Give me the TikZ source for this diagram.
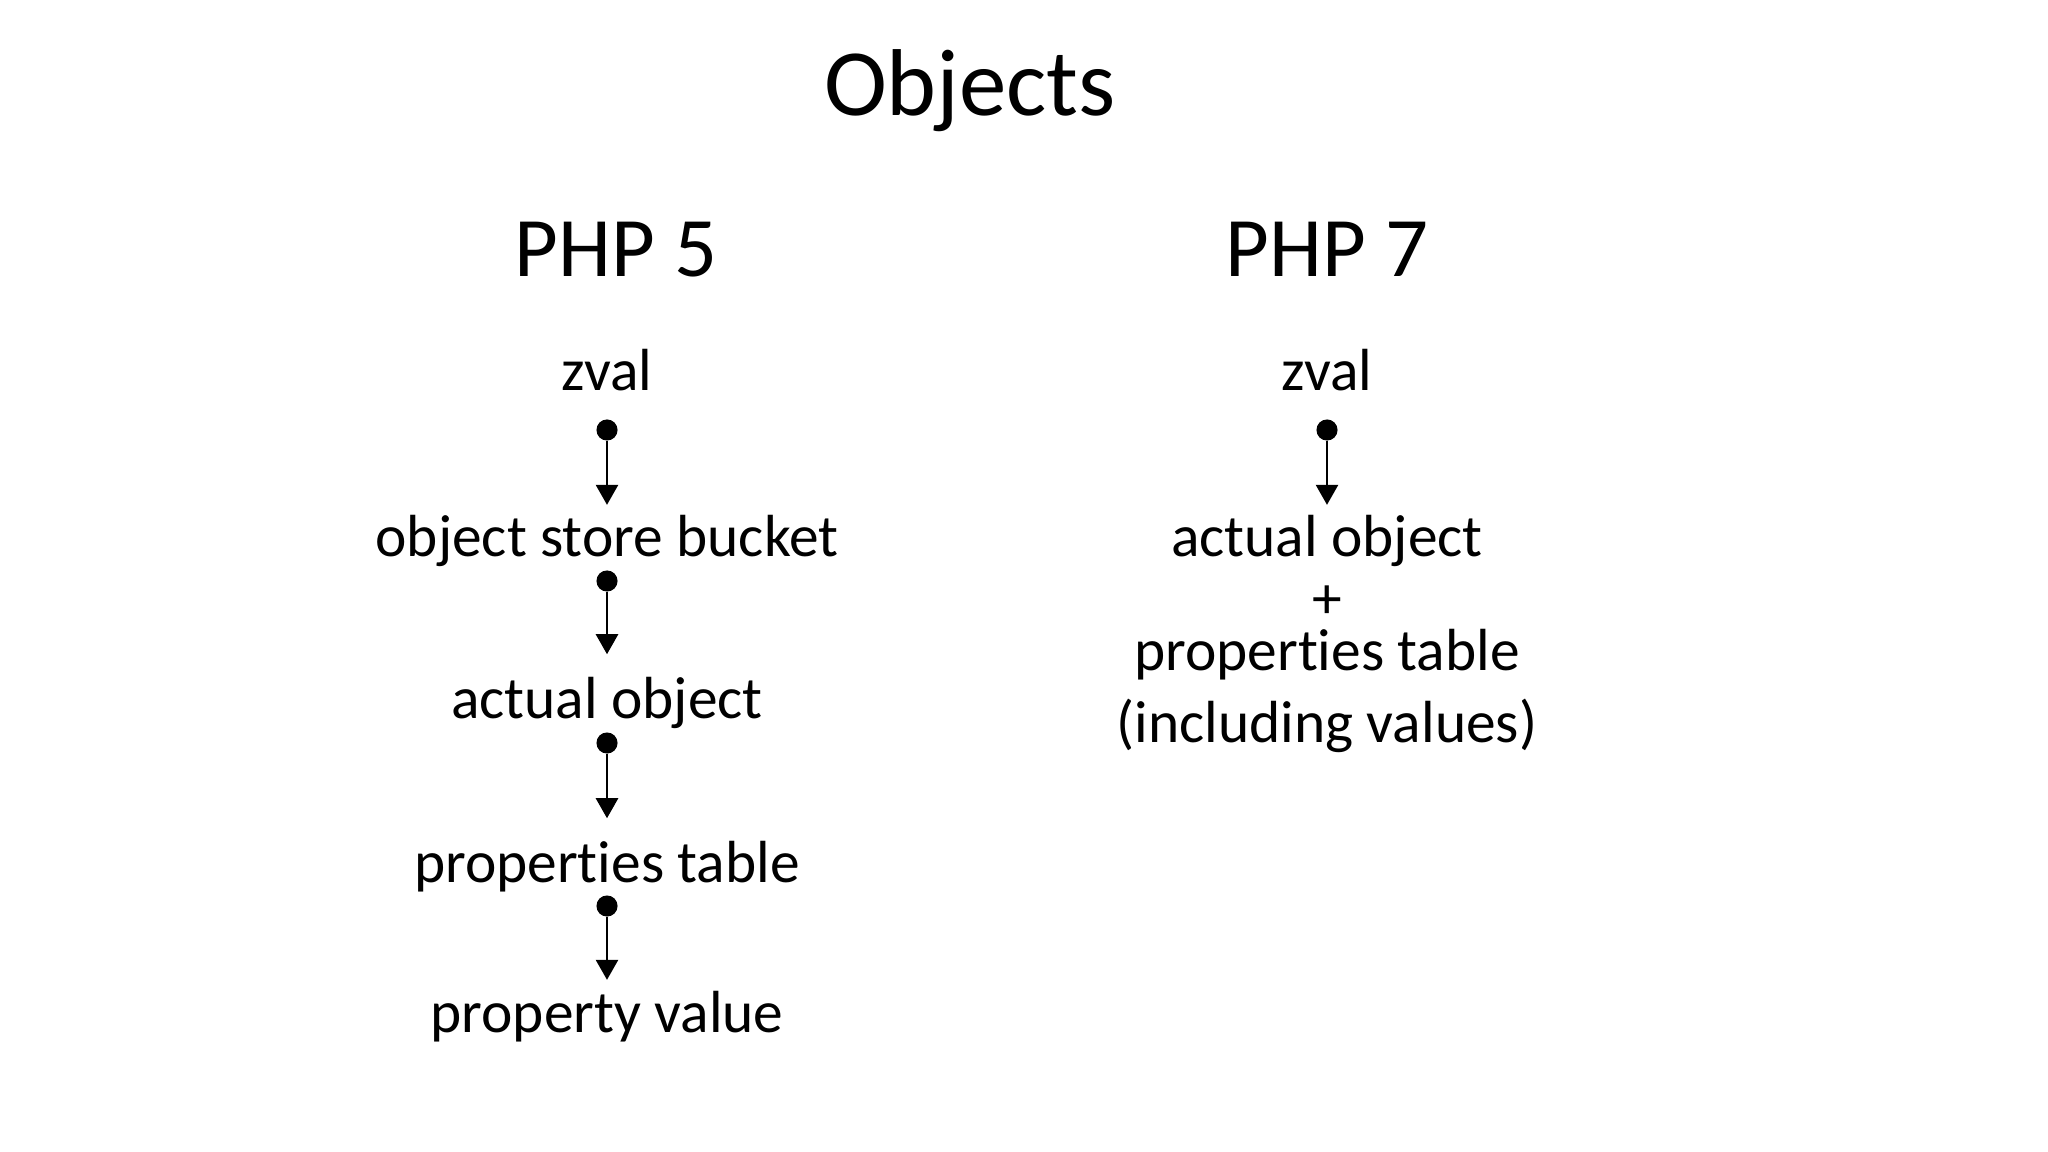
\documentclass[tikz,border=0pt]{standalone}
\usepackage{fontspec}
\setmainfont[Ligatures=NoCommon]{Carlito}
\usetikzlibrary{arrows.meta}

\tikzset{
  heading/.style={font=\fontsize{27}{32}\selectfont,anchor=base,inner sep=0pt},
  version/.style={font=\fontsize{24.1}{29}\selectfont,anchor=base,inner sep=0pt},
  item/.style={font=\fontsize{16.9}{20}\selectfont,anchor=base,inner sep=0pt},
  near/.style={outer ysep=3.1pt},
  far/.style={outer ysep=6.4pt},
  dot/.style={circle,fill,inner sep=0pt,minimum size=6pt},
  ptr/.style={-{Triangle[width=6.3pt,length=5.7pt]},line width=0.65pt}
}

\begin{document}
\begin{tikzpicture}[x=0.01cm,y=-0.01cm]
\useasboundingbox (0,0) rectangle (2048,1152);
\node [heading] (title) at (970,116) {Objects};
\node [version] (php5) at (616,277) {PHP 5};
\node [version] (php7) at (1327,277) {PHP 7};

\node [item] (zval5) at (607,391) {zval};
\node [item,near] (bucket) at (607,557) {object store bucket};
\node [item,far] (obj5) at (607,718) {actual object};
\node [item,far] (props5) at (607,882) {properties table};
\node [item,near] (value) at (607,1032) {property value};
\node [dot] (d1) at (607,430) {};
\node [dot] (d2) at (607,581) {};
\node [dot] (d3) at (607,743) {};
\node [dot] (d4) at (607,906) {};
\draw [ptr] (d1) -- (bucket);
\draw [ptr] (d2) -- (obj5);
\draw [ptr] (d3) -- (props5);
\draw [ptr] (d4) -- (value);

\node [item] (zval7) at (1327,391) {zval};
\node [item,near] (obj7) at (1327,557) {actual object};
\node [item] (plus) at (1327,618) {+};
\node [item] (props7) at (1327,670) {properties table};
\node [item] (incl) at (1327,742) {(including values)};
\node [dot] (d5) at (1327,430) {};
\draw [ptr] (d5) -- (obj7);
\end{tikzpicture}
\end{document}
